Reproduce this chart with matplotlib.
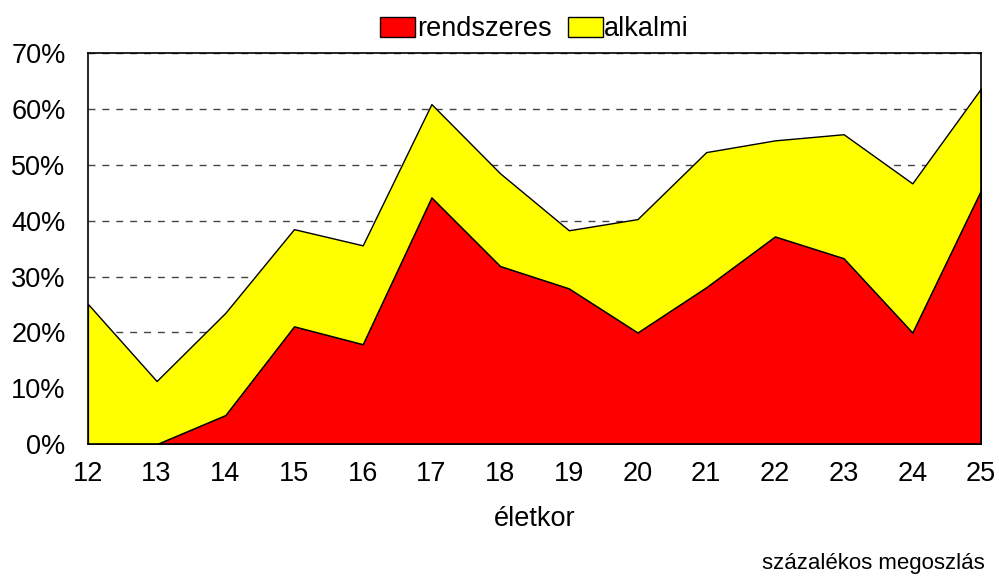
import matplotlib.pyplot as plt
import numpy as np

plt.rcParams['font.family'] = ['Liberation Sans', 'DejaVu Sans']

# életkor és megoszlás (%)
eletkor = [12, 13, 14, 15, 16, 17, 18, 19, 20, 21, 22, 23, 24, 25]
rendszeres = [0.0, 0.0, 5.2, 21.1, 17.9, 44.2, 31.9, 27.9, 20.0, 28.1, 37.2, 33.3, 20.0, 45.5]
osszes = [25.1, 11.3, 23.5, 38.5, 35.6, 60.9, 48.5, 38.3, 40.3, 52.3, 54.4, 55.5, 46.7, 63.7]
alkalmi = [o - r for o, r in zip(osszes, rendszeres)]

fig = plt.figure(figsize=(9.99, 5.79), dpi=100)
ax = fig.add_axes([0.088, 0.233, 0.894, 0.675])

ax.stackplot(eletkor, rendszeres, alkalmi, colors=['#ff0000', '#ffff00'],
             edgecolor='black', linewidth=1.0, labels=['rendszeres', 'alkalmi'], zorder=2)

ax.set_xlim(12, 25)
ax.set_ylim(0, 70)
ax.set_xticks(eletkor)
ax.set_yticks(range(0, 71, 10))
ax.set_yticklabels([f'{v}%' for v in range(0, 71, 10)])
ax.tick_params(labelsize=19.5, length=0)
ax.tick_params(axis='x', pad=12)
ax.tick_params(axis='y', pad=16)
ax.yaxis.grid(True, linestyle=(0, (5, 5)), color='#444444', linewidth=1.0, zorder=1)
ax.set_axisbelow(True)
for s in ax.spines.values():
    s.set_linewidth(1.2)

ax.set_xlabel('életkor', fontsize=19.5, labelpad=14)

ax.legend(loc='lower center', bbox_to_anchor=(0.5, 1.0), ncol=2, frameon=False,
          fontsize=19.5, handlelength=1.3, handleheight=0.8, handletextpad=0.05,
          columnspacing=0.6, borderaxespad=0.0)

fig.text(0.986, 0.008, 'százalékos megoszlás', ha='right', va='bottom', fontsize=16)

fig.savefig('out.png', dpi=100)
